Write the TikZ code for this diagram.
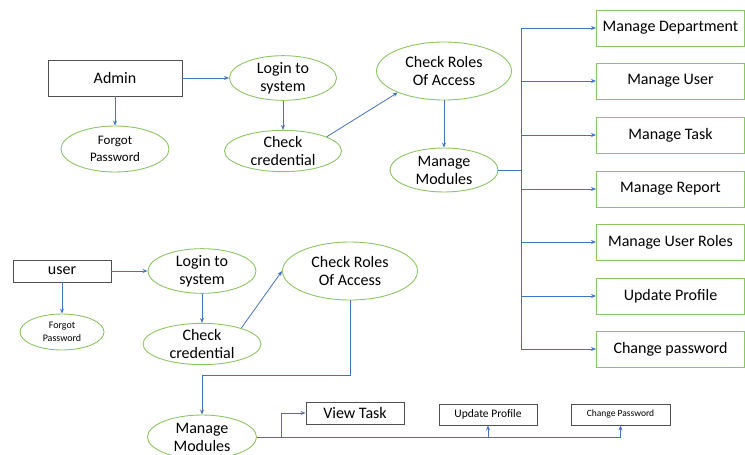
\documentclass[tikz,border=0pt]{standalone}
\usepackage{fontspec}
\setmainfont{Carlito}
\usetikzlibrary{shapes.geometric,arrows.meta}

\definecolor{lineblue}{RGB}{68,114,196}
\definecolor{ovalgreen}{RGB}{140,198,100}
\definecolor{boxgray}{RGB}{80,80,80}

\begin{document}
\begin{tikzpicture}[x=1pt, y=-1pt,
    oval/.style={ellipse, draw=ovalgreen, line width=0.9pt, inner sep=0pt, align=center, font=\fontsize{16}{18}\selectfont},
    actor/.style={rectangle, draw=boxgray, line width=0.9pt, inner sep=0pt, font=\fontsize{16}{18}\selectfont},
    module/.style={rectangle, draw=ovalgreen, line width=0.9pt, inner sep=0pt, minimum width=148pt, minimum height=36pt, font=\fontsize{16}{18}\selectfont},
    link/.style={draw=lineblue, line width=0.8pt},
    arr/.style={link, -{Stealth[length=5pt, width=4pt]}}]
    \useasboundingbox (0,0) rectangle (745,455);

    % admin side
    \node[actor, minimum width=134pt, minimum height=36pt] (admin) at (115,78) {Admin};
    \node[oval, minimum width=108pt, minimum height=46pt, font=\fontsize{13}{17}\selectfont] (fp1) at (115,149) {Forgot\\Password};
    \node[oval, minimum width=107pt, minimum height=40pt] (login1) at (283,78) {Login to\\system};
    \node[oval, minimum width=117pt, minimum height=40pt] (cc1) at (283,151) {Check\\credential};
    \node[oval, minimum width=135pt, minimum height=58pt] (roles1) at (444,71) {Check Roles\\Of Access};
    \node[oval, minimum width=108pt, minimum height=44pt] (mm1) at (444,170) {Manage\\Modules};
    \coordinate (bus) at (521,170);

    \foreach \name/\y/\txt in {md/28/Manage Department, mu/81/Manage User, mt/135/Manage Task,
        mr/189/Manage Report, mur/242/Manage User Roles, upf/296/Update Profile, cpw/349/Change password}
        \node[module] (\name) at (670.5,\y) {\txt};

    \draw [arr] (admin) -- (fp1);
    \draw [arr] (admin) -- (login1);
    \draw [arr] (login1) -- (cc1);
    \draw [arr] (cc1.18) -- (roles1.205);
    \draw [arr] (roles1) -- (mm1);
    \draw [link] (mm1.east) -- (bus);
    \draw [link] (bus |- md.west) -- (bus |- cpw.west);
    \foreach \name in {md, mu, mt, mr, mur, upf, cpw}
        \draw [arr] (bus |- \name.west) -- (\name.west);

    % user side
    \node[actor, minimum width=98pt, minimum height=22pt] (user) at (62,271) {user};
    \node[oval, minimum width=84pt, minimum height=36pt, font=\fontsize{10}{12.5}\selectfont] (fp2) at (62,332) {Forgot\\Password};
    \node[oval, minimum width=108pt, minimum height=42pt] (login2) at (202,271) {Login to\\system};
    \node[oval, minimum width=118pt, minimum height=40pt] (cc2) at (202,344) {Check\\credential};
    \node[oval, minimum width=135pt, minimum height=58pt] (roles2) at (350,271) {Check Roles\\Of Access};
    \node[oval, minimum width=109pt, minimum height=44pt] (mm2) at (202,437) {Manage\\Modules};
    \node[actor, minimum width=98pt, minimum height=22pt] (vt) at (355,413) {View Task};
    \node[actor, minimum width=98pt, minimum height=21pt, font=\fontsize{11.5}{13}\selectfont] (up2) at (488,414.5) {Update Profile};
    \node[actor, minimum width=99pt, minimum height=21pt, font=\fontsize{9.5}{11}\selectfont] (cp2) at (620.5,414.5) {Change Password};
    \coordinate (fork) at (281,437);

    \draw [arr] (user) -- (fp2);
    \draw [arr] (user) -- (login2);
    \draw [arr] (login2) -- (cc2);
    \draw [arr] (cc2.22) -- (roles2.west);
    \draw [arr] (roles2.south) -- ++(0,75) -| (mm2.north);
    \draw [link] (mm2.east) -- (cp2.south |- mm2.east);
    \draw [arr] (fork) |- (vt.west);
    \draw [arr] (up2.south |- mm2.east) -- (up2.south);
    \draw [arr] (cp2.south |- mm2.east) -- (cp2.south);
\end{tikzpicture}
\end{document}
